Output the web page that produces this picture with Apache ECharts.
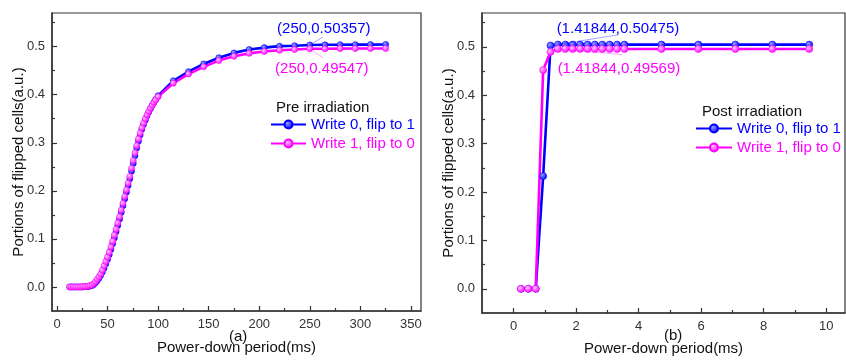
<!DOCTYPE html>
<html>
<head>
<meta charset="utf-8">
<script src="https://cdn.jsdelivr.net/npm/echarts@6/dist/echarts.min.js"></script>
<style>
  html, body { margin: 0; padding: 0; background: #fff; }
  #chart { width: 846px; height: 361px; }
</style>
</head>
<body>
<div id="chart"></div>
<script>
// (a) pre irradiation
const preX = [
  12.5, 14.2, 15.9, 17.6, 19.3, 21.0, 22.7, 24.4, 26.1, 27.8,
  29.5, 31.2, 32.9, 34.6, 36.3, 38.0, 39.7, 41.4, 43.1, 44.8,
  46.5, 48.2, 49.9, 51.6, 53.3, 55.0, 56.7, 58.4, 60.1, 61.8,
  63.5, 65.2, 66.9, 68.6, 70.3, 72.0, 73.7, 75.4, 77.1, 78.8,
  80.5, 82.2, 83.9, 85.6, 87.3, 89.0, 90.7, 92.4, 94.1, 95.8,
  97.5, 100, 115, 130, 145, 160, 175, 190, 205, 220,
  235, 250, 265, 280, 295, 310, 325
];
const preW0 = [
  0, 0, 0, 0, 0, 0, 0, 0, 0, 0.001,
  0.001, 0.001, 0.002, 0.003, 0.005, 0.009, 0.013, 0.018, 0.024, 0.031,
  0.039, 0.048, 0.057, 0.067, 0.078, 0.090, 0.102, 0.115, 0.128, 0.141,
  0.155, 0.169, 0.183, 0.197, 0.211, 0.225, 0.241, 0.257, 0.273, 0.289,
  0.303, 0.316, 0.328, 0.338, 0.347, 0.356, 0.364, 0.371, 0.378, 0.384,
  0.390, 0.398, 0.429, 0.448, 0.464, 0.477, 0.487, 0.494, 0.498, 0.501,
  0.502, 0.50357, 0.5038, 0.504, 0.5042, 0.5043, 0.5045
];
const preW1 = [
  0, 0, 0, 0, 0, 0, 0, 0, 0.001, 0.001,
  0.001, 0.002, 0.003, 0.004, 0.007, 0.011, 0.016, 0.021, 0.027, 0.035,
  0.044, 0.053, 0.062, 0.072, 0.083, 0.095, 0.108, 0.120, 0.133, 0.146,
  0.160, 0.174, 0.188, 0.202, 0.216, 0.230, 0.247, 0.263, 0.279, 0.294,
  0.308, 0.320, 0.331, 0.341, 0.350, 0.358, 0.365, 0.372, 0.378, 0.384,
  0.389, 0.396, 0.424, 0.443, 0.458, 0.471, 0.480, 0.486, 0.490, 0.4925,
  0.494, 0.49547, 0.4957, 0.4959, 0.496, 0.4961, 0.4962
];

// (b) post irradiation
const postX = [
  0.236, 0.473, 0.709, 0.946, 1.182, 1.41844, 1.655, 1.891, 2.128, 2.364,
  2.600, 2.837, 3.073, 3.310, 3.546, 4.728, 5.910, 7.092, 8.274, 9.456
];
const postW0 = [
  0, 0, 0, 0.233, 0.5027, 0.50475, 0.5047, 0.5047, 0.5047, 0.5047,
  0.5047, 0.5047, 0.5047, 0.5047, 0.5047, 0.5047, 0.5047, 0.5047, 0.5047, 0.5047
];
const postW1 = [
  0, 0, 0, 0.452, 0.4898, 0.49569, 0.4957, 0.4957, 0.4957, 0.4957,
  0.4957, 0.4957, 0.4957, 0.4957, 0.4957, 0.4957, 0.4957, 0.4957, 0.4957, 0.4957
];

// ticks
const yMajor = [0, 0.1, 0.2, 0.3, 0.4, 0.5];
const yMinor = [0.05, 0.15, 0.25, 0.35, 0.45, 0.55];
const preXMajor = [0, 50, 100, 150, 200, 250, 300, 350];
const preXMinor = [25, 75, 125, 175, 225, 275, 325];
const postXMajor = [0, 2, 4, 6, 8, 10];
const postXMinor = [1, 3, 5, 7, 9];

const seriesNames = ['Write 0, flip to 1', 'Write 1, flip to 0'];
const BLUE = '#0000ff';
const MAGENTA = '#ff00ff';
const FONT = '"Liberation Sans", Arial, sans-serif';
const AXIS_COLOR = '#333';

const ball = (light, base) => new echarts.graphic.RadialGradient(0.35, 0.35, 0.7, [
  { offset: 0, color: light },
  { offset: 1, color: base },
]);

function majorAxis(gridIndex, pos, min, max, ticks, fmt, name, nameGap) {
  return {
    type: 'value', gridIndex, position: pos, min, max,
    name, nameLocation: 'middle', nameGap, nameMoveOverlap: false,
    nameTextStyle: { fontFamily: FONT, fontSize: 15, color: '#111' },
    axisLine: { show: true, onZero: false, lineStyle: { color: AXIS_COLOR, width: 1.5 } },
    axisTick: { show: true, inside: true, length: 5, customValues: ticks, lineStyle: { color: AXIS_COLOR, width: 1.2 } },
    axisLabel: { show: true, customValues: ticks, formatter: fmt, margin: 7, fontFamily: FONT, fontSize: 13, color: '#333' },
    splitLine: { show: false },
  };
}
function minorAxis(gridIndex, pos, min, max, ticks) {
  return {
    type: 'value', gridIndex, position: pos, min, max,
    axisLine: { show: false, onZero: false },
    axisTick: { show: true, inside: true, length: 3, customValues: ticks, lineStyle: { color: AXIS_COLOR, width: 1.2 } },
    axisLabel: { show: false },
    splitLine: { show: false },
  };
}

function lineSeries(name, xs, ys, xi, yi, color, light, size, note) {
  const s = {
    name, type: 'line', xAxisIndex: xi, yAxisIndex: yi,
    data: xs.map((x, i) => [x, ys[i]]),
    symbol: 'circle', symbolSize: size,
    lineStyle: { color, width: 2.6 },
    itemStyle: { color: ball(light, color), borderColor: color, borderWidth: 0.6 },
    emphasis: { disabled: true },
    animation: false,
  };
  if (note) {
    s.markPoint = {
      symbol: 'circle', symbolSize: 0, silent: true, animation: false,
      data: [{
        coord: note.coord,
        label: {
          show: true, formatter: note.text, offset: note.offset,
          color, fontFamily: FONT, fontSize: 15,
        },
      }],
    };
    // thin leader line from the point towards its label
    s.markLine = {
      silent: true, animation: false, symbol: 'none',
      lineStyle: { color, width: 0.6, type: 'solid', opacity: 0.6 },
      label: { show: false },
      data: [[{ coord: note.coord }, { coord: note.tip }]],
    };
  }
  return s;
}

const chart = echarts.init(document.getElementById('chart'), null, { renderer: 'canvas' });
chart.setOption({
  backgroundColor: '#fff',
  animation: false,
  grid: [
    { left: 52, top: 13, width: 369, height: 298, show: true, borderColor: AXIS_COLOR, borderWidth: 1.2 },
    { left: 482, top: 13, width: 363, height: 303, show: true, borderColor: AXIS_COLOR, borderWidth: 1.2 },
  ],
  title: [
    { text: 'Pre irradiation', left: 271, top: 95, textStyle: { fontFamily: FONT, fontSize: 15, fontWeight: 'normal', color: '#111' } },
    { text: 'Post irradiation', left: 697, top: 99, textStyle: { fontFamily: FONT, fontSize: 15, fontWeight: 'normal', color: '#111' } },
    { text: '(a)', left: 224, top: 324, textStyle: { fontFamily: FONT, fontSize: 15, fontWeight: 'normal', color: '#111' } },
    { text: '(b)', left: 659, top: 323, textStyle: { fontFamily: FONT, fontSize: 15, fontWeight: 'normal', color: '#111' } },
  ],
  legend: [
    {
      orient: 'vertical', left: 270, top: 117, padding: 0, itemWidth: 35, itemHeight: 10, itemGap: 4,
      data: [
        { name: seriesNames[0], textStyle: { color: BLUE } },
        { name: seriesNames[1], textStyle: { color: MAGENTA } },
      ],
      textStyle: { fontFamily: FONT, fontSize: 15 },
      selectedMode: false,
    },
    {
      orient: 'vertical', left: 695, top: 121, padding: 0, itemWidth: 36, itemHeight: 10, itemGap: 4,
      data: [
        { name: seriesNames[0] + ' ', textStyle: { color: BLUE } },
        { name: seriesNames[1] + ' ', textStyle: { color: MAGENTA } },
      ],
      formatter: n => n.trim(),
      textStyle: { fontFamily: FONT, fontSize: 15 },
      selectedMode: false,
    },
  ],
  xAxis: [
    majorAxis(0, 'bottom', -5, 360, preXMajor, v => String(v), 'Power-down period(ms)', 29),
    minorAxis(0, 'bottom', -5, 360, preXMinor),
    majorAxis(1, 'bottom', -1.01, 10.6, postXMajor, v => String(v), 'Power-down period(ms)', 28),
    minorAxis(1, 'bottom', -1.01, 10.6, postXMinor),
  ],
  yAxis: [
    majorAxis(0, 'left', -0.05, 0.57, yMajor, v => v.toFixed(1), 'Portions of flipped cells(a.u.)', 26),
    minorAxis(0, 'left', -0.05, 0.57, yMinor),
    majorAxis(1, 'left', -0.05, 0.57, yMajor, v => v.toFixed(1), 'Portions of flipped cells(a.u.)', 26),
    minorAxis(1, 'left', -0.05, 0.57, yMinor),
  ],
  series: [
    lineSeries(seriesNames[0], preX, preW0, 0, 0, BLUE, '#9a9aff', 6,
      { coord: [250, 0.50357], tip: [263, 0.520], text: '(250,0.50357)', offset: [14, -16] }),
    lineSeries(seriesNames[1], preX, preW1, 0, 0, MAGENTA, '#ffc8ff', 6,
      { coord: [250, 0.49547], tip: [263, 0.477], text: '(250,0.49547)', offset: [12, 20] }),
    lineSeries(seriesNames[0] + ' ', postX, postW0, 2, 2, BLUE, '#9a9aff', 7,
      { coord: [1.41844, 0.50475], tip: [3.35, 0.525], text: '(1.41844,0.50475)', offset: [60, -16] }),
    lineSeries(seriesNames[1] + ' ', postX, postW1, 2, 2, MAGENTA, '#ffc8ff', 7,
      { coord: [1.41844, 0.49569], tip: [3.47, 0.484], text: '(1.41844,0.49569)', offset: [61, 20] }),
  ],
});
</script>
</body>
</html>
